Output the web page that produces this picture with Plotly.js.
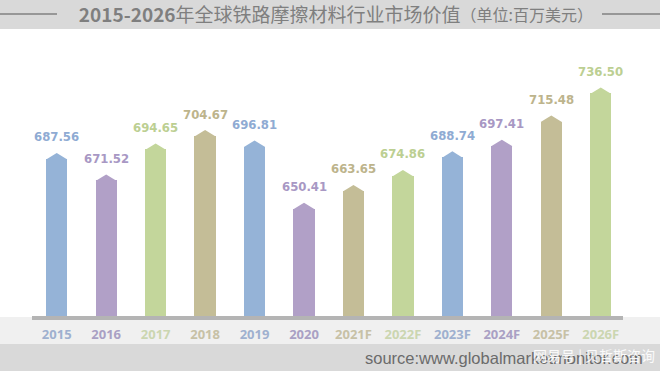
<!DOCTYPE html>
<html>
<head>
<meta charset="utf-8">
<script src="https://cdn.plot.ly/plotly-3.0.1.min.js"></script>
<style>html,body{margin:0;padding:0;background:#fff;}#chart{width:660px;height:371px;}</style>
</head>
<body>
<div id="chart"></div>
<script>
const years = ['2015','2016','2017','2018','2019','2020','2021F','2022F','2023F','2024F','2025F','2026F'];
const values = [687.56, 671.52, 694.65, 704.67, 696.81, 650.41, 663.65, 674.86, 688.74, 697.41, 715.48, 736.50];
const valueLabels = ['687.56','671.52','694.65','704.67','696.81','650.41','663.65','674.86','688.74','697.41','715.48','736.50'];
const barColors = ['#95b3d7','#b1a0c7','#c3d69b','#c4bd97','#95b3d7','#b1a0c7','#c4bd97','#c3d69b','#95b3d7','#b1a0c7','#c4bd97','#c3d69b'];
const labelColors = ['#8fabd3','#a898c4','#bccf92','#bdb48c','#8fabd3','#a898c4','#bdb48c','#bccf92','#8fabd3','#a898c4','#bdb48c','#bccf92'];
const tickColors = ['#9fb0cf','#a9a0c4','#cbd6b0','#c7c1a6','#9fb0cf','#a9a0c4','#c7c1a6','#cbd6b0','#9fb0cf','#a9a0c4','#c7c1a6','#cbd6b0'];

const TIP = 4.5;      // height of pointed top (data units)
const HALF = 0.215;   // half bar width (category units)
const idx = years.map((_, i) => i);

const traces = [];
traces.push({
  type: 'bar',
  x: idx,
  y: values.map(v => v - TIP),
  width: HALF * 2,
  marker: {color: barColors, line: {width: 0}},
  hoverinfo: 'skip'
});
values.forEach((v, i) => {
  traces.push({
    type: 'scatter', mode: 'lines',
    x: [i - HALF, i, i + HALF, i - HALF],
    y: [v - TIP - 0.4, v, v - TIP - 0.4, v - TIP - 0.4],
    fill: 'toself', fillcolor: barColors[i],
    line: {width: 0, color: barColors[i]},
    hoverinfo: 'skip'
  });
});

const annotations = values.map((v, i) => ({
  x: i, y: v, xref: 'x', yref: 'y', yshift: 16, showarrow: false,
  text: '<b>' + valueLabels[i] + '</b>',
  font: {family: '"Liberation Sans Narrow", "DejaVu Sans Condensed", sans-serif', size: 13, color: labelColors[i]},
  xanchor: 'center', yanchor: 'middle'
}));
annotations.push({
  xref: 'paper', yref: 'paper', x: 0.56, y: -0.152, xanchor: 'left', yanchor: 'middle',
  showarrow: false, text: 'source:www.globalmarketmonitor.com',
  font: {family: '"Liberation Sans", Arial, sans-serif', size: 16.5, color: '#6b6b6b'}
});
annotations.push({
  xref: 'paper', yref: 'paper', x: 0.845, y: -0.141, xanchor: 'left', yanchor: 'middle',
  showarrow: false, text: '网易号 | 贝哲斯咨询', opacity: 0.9,
  font: {family: '"Noto Sans CJK SC", sans-serif', size: 14, color: '#ffffff'}
});

const shapes = [
  {type: 'rect', xref: 'paper', yref: 'paper', x0: -0.1, x1: 1.1, y0: 1.0399, y1: 1.2, fillcolor: '#d9d9d9', line: {width: 0}, layer: 'below'},
  {type: 'rect', xref: 'paper', yref: 'paper', x0: -0.1, x1: 1.1, y0: -0.1014, y1: -0.0036, fillcolor: '#f0f0f0', line: {width: 0}, layer: 'below'},
  {type: 'rect', xref: 'paper', yref: 'paper', x0: -0.1, x1: 1.1, y0: -0.25, y1: -0.1014, fillcolor: '#d9d9d9', line: {width: 0}, layer: 'below'},
  {type: 'line', xref: 'paper', yref: 'paper', x0: -0.06, x1: 0.0423, y0: 1.0942, y1: 1.0942, line: {color: '#808080', width: 1.5}},
  {type: 'line', xref: 'paper', yref: 'paper', x0: 0.9645, x1: 1.07, y0: 1.0942, y1: 1.0942, line: {color: '#808080', width: 1.5}}
];

const layout = {
  width: 660, height: 371,
  margin: {l: 32, r: 37, t: 40, b: 55},
  paper_bgcolor: '#ffffff', plot_bgcolor: 'rgba(0,0,0,0)',
  showlegend: false, hovermode: false,
  title: {
    text: '<b>2015-2026</b>年全球铁路摩擦材料行业市场价值<span style="font-size:16px">（单位:百万美元）</span>',
    font: {family: '"Noto Sans CJK SC", sans-serif', size: 19, color: '#7f7f7f'},
    x: 0.509, xref: 'container', xanchor: 'center',
    y: 0.96, yref: 'container', yanchor: 'middle'
  },
  xaxis: {
    range: [-0.5, 11.45], tickmode: 'array', tickvals: idx,
    ticktext: years.map((y, i) => '<span style="color:' + tickColors[i] + '">' + y + '</span>'),
    tickfont: {family: '"Open Sans", sans-serif', size: 13, color: '#a0a0a0', weight: 'bold'},
    ticklabelstandoff: 3,
    showline: true, linecolor: '#b4b4b4', linewidth: 4, ticks: '',
    showgrid: false, zeroline: false, fixedrange: true
  },
  yaxis: {
    range: [565.8, 771.9], visible: false, showgrid: false, zeroline: false, fixedrange: true
  },
  annotations: annotations,
  shapes: shapes,
  bargap: 0
};

Plotly.newPlot('chart', traces, layout, {displayModeBar: false, staticPlot: true});
</script>
</body>
</html>
